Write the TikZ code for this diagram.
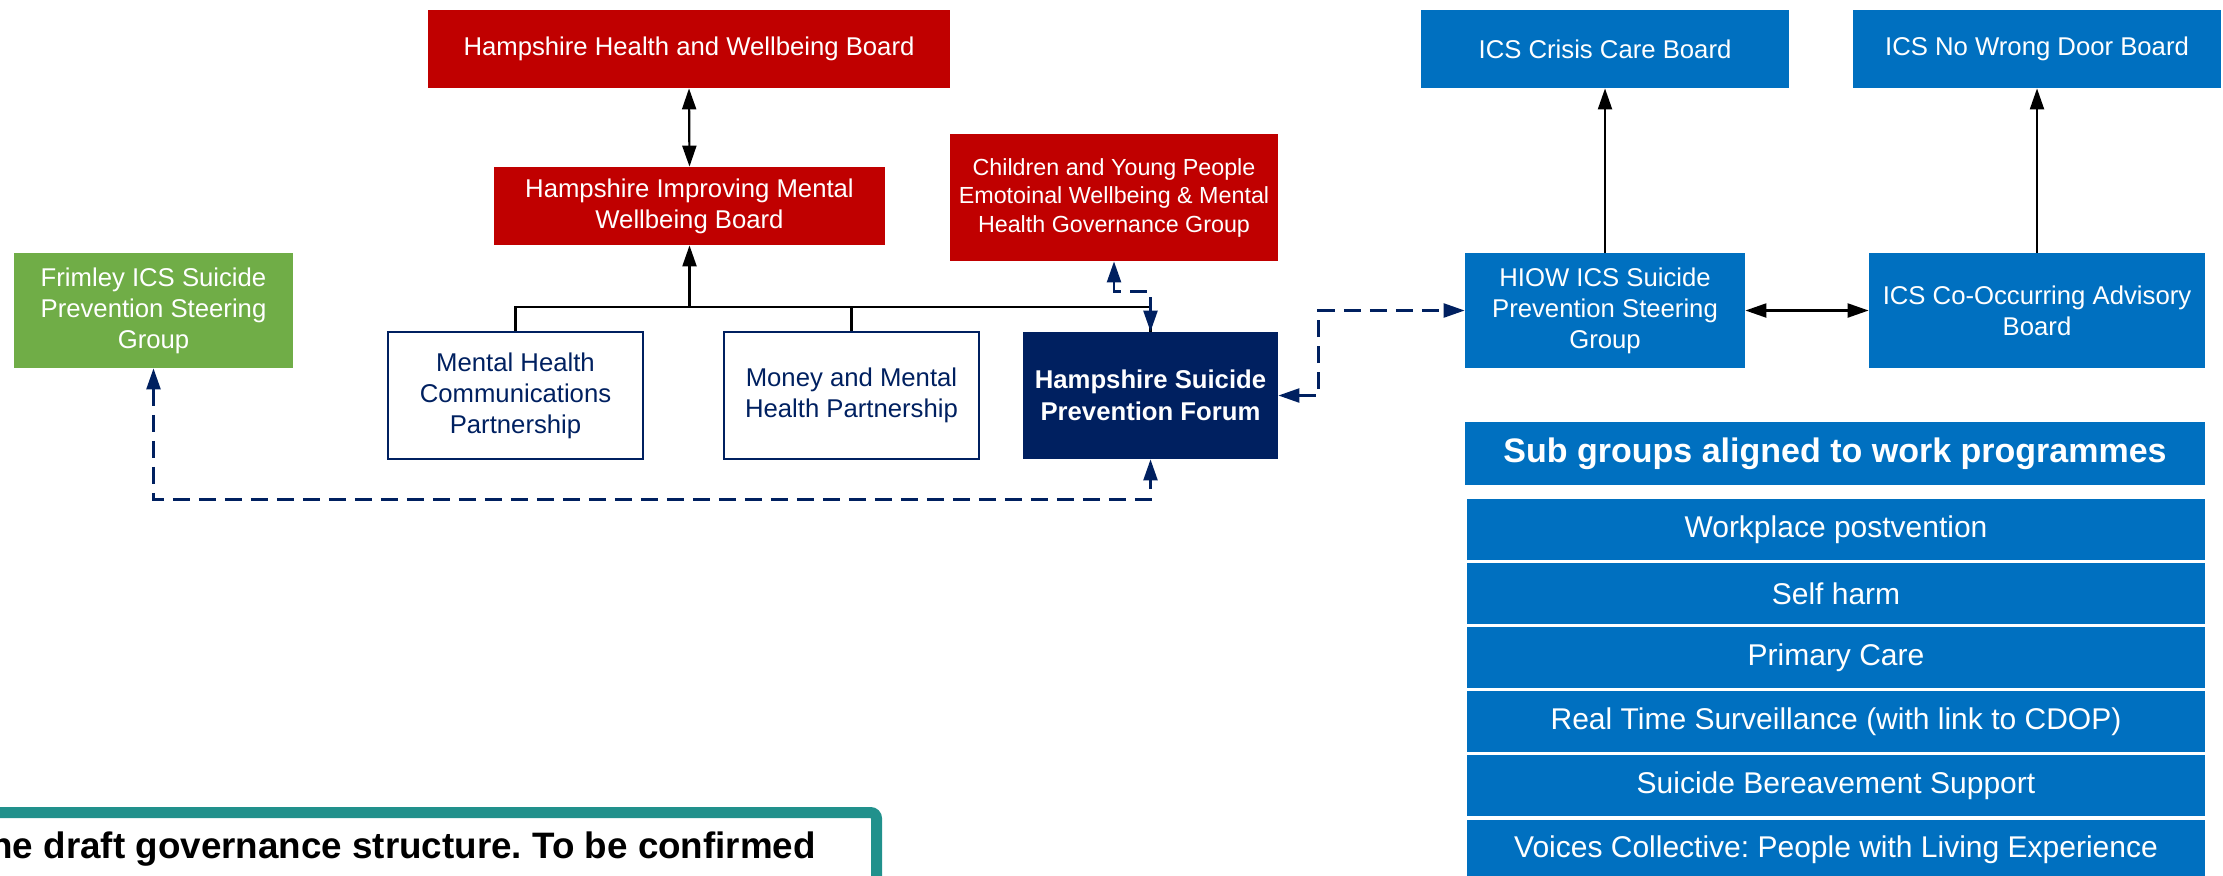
\documentclass[tikz,border=0pt]{standalone}
\usepackage{fontspec}
\setmainfont{Liberation Sans}
\usepackage{xcolor}
\usetikzlibrary{arrows.meta}
\definecolor{hred}{RGB}{192,0,0}
\definecolor{hgreen}{RGB}{112,173,71}
\definecolor{hblue}{RGB}{0,112,192}
\definecolor{hnavy}{RGB}{0,32,96}
\definecolor{hteal}{RGB}{33,145,140}
\frenchspacing

\begin{document}
\begin{tikzpicture}[
  x=0.5pt, y=-0.5pt,
  box/.style={rectangle, inner sep=0pt, align=center, text=white,
    font=\fontsize{12.85}{15.5}\selectfont},
  redbox/.style={box, fill=hred},
  bluebox/.style={box, fill=hblue},
  linkbox/.style={box, draw=hnavy, line width=0.8pt, text=hnavy,
    minimum width=127.5pt, minimum height=63.5pt},
  rowbox/.style={bluebox, minimum width=369pt, minimum height=30.5pt,
    font=\fontsize{15}{18}\selectfont},
  tip/.style={-{Triangle[length=10.5pt,width=7pt]}},
  both/.style={{Triangle[length=10.5pt,width=7pt]}-{Triangle[length=10.5pt,width=7pt]}},
  line/.style={line width=1.1pt},
  dlink/.style={both, draw=hnavy, line width=1.2pt,
    dash pattern=on 8.5pt off 4.5pt},
]
\useasboundingbox (0,0) rectangle (2223,875);

\node [redbox, minimum width=261pt, minimum height=39pt] (hhwb) at (689,49)
  {Hampshire Health and Wellbeing Board};
\node [redbox, minimum width=195.5pt, minimum height=39pt] (himwb) at (689.5,206)
  {Hampshire Improving Mental\\Wellbeing Board};
\node [redbox, minimum width=164pt, minimum height=63.5pt,
  font=\fontsize{11.65}{14.25}\selectfont] (cyp) at (1114,197.5)
  {Children and Young People\\Emotoinal Wellbeing \& Mental\\Health Governance Group};
\node [box, fill=hgreen, minimum width=139.5pt, minimum height=57.5pt] (frimley) at (153.5,310.5)
  {Frimley ICS Suicide\\Prevention Steering\\Group};
\node [linkbox] (mhcp) at (515.5,395.5) {Mental Health\\Communications\\Partnership};
\node [linkbox] (mmhp) at (851.5,395.5) {Money and Mental\\Health Partnership};
\node [box, fill=hnavy, minimum width=127.5pt, minimum height=63.5pt,
  font=\bfseries\fontsize{12.85}{16}\selectfont] (hspf) at (1150.5,395.5)
  {Hampshire Suicide\\Prevention Forum};

\node [bluebox, minimum width=184pt, minimum height=39pt] (crisis) at (1605,49)
  {ICS Crisis Care Board};
\node [bluebox, minimum width=184pt, minimum height=39pt] (nwd) at (2037,49)
  {ICS No Wrong Door Board};
\node [bluebox, minimum width=140pt, minimum height=57.5pt] (hiow) at (1605,310.5)
  {HIOW ICS Suicide\\Prevention Steering\\Group};
\node [bluebox, minimum width=168pt, minimum height=57.5pt] (cooc) at (2037,310.5)
  {ICS Co-Occurring Advisory\\Board};

\node [bluebox, minimum width=370pt, minimum height=31.5pt,
  font=\bfseries\fontsize{17}{20}\selectfont] (subhead) at (1835,453.5)
  {Sub groups aligned to work programmes};
\foreach \txt [count=\i from 0] in {Workplace postvention, Self harm, Primary Care,
    Real Time Surveillance (with link to CDOP), Suicide Bereavement Support,
    Voices Collective: People with Living Experience}
  \node [rowbox] (row\i) at (1836,529.5+64.1*\i) {\txt};

\coordinate (bus) at (689.5,307);
\draw [line] (mhcp.north) |- (bus);
\draw [line] (mmhp.north) |- (bus);
\draw [line] (hspf.north) |- (bus);
\draw [line, tip] (bus) -- (himwb.south);
\draw [line, both] (hhwb.south) -- (himwb.north);

\draw [dlink] (cyp.south) -- ++(0,30) -| (hspf.north);
\draw [dlink] (frimley.south) -- ++(0,131) -| (hspf.south);
\draw [dlink] (hspf.east) -- ++(40,0) |- (hiow.west);

\draw [line, tip] (hiow.north) -- (crisis.south);
\draw [line, tip] (cooc.north) -- (nwd.south);
\draw [line, both] (hiow.east) -- (cooc.west);

\draw [draw=hteal, line width=5.5pt, rounded corners=3pt] (-40,812.5) rectangle (876.5,960);
\node [anchor=base east, font=\bfseries\fontsize{18.4}{21}\selectfont] (note) at (823,858)
  {he draft governance structure. To be confirmed};

\end{tikzpicture}
\end{document}
